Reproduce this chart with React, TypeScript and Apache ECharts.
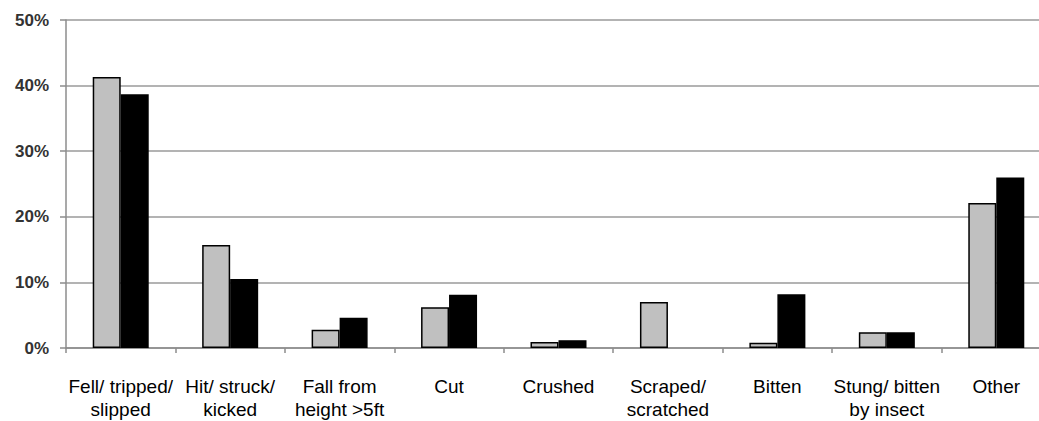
import React, { useEffect, useRef } from "react";
import * as echarts from "echarts";

const categories = [
  "Fell/ tripped/\nslipped",
  "Hit/ struck/\nkicked",
  "Fall from\nheight >5ft",
  "Cut",
  "Crushed",
  "Scraped/\nscratched",
  "Bitten",
  "Stung/ bitten\nby insect",
  "Other",
];
const seriesGrayName = "Series 1";
const seriesBlackName = "Series 2";
const grayValues = [41.3, 15.7, 2.8, 6.2, 0.9, 7.0, 0.8, 2.4, 22.1];
const blackValues = [38.7, 10.5, 4.6, 8.1, 1.2, 0, 8.2, 2.4, 26.0];
const yTicks = { min: 0, max: 50, interval: 10 };

export default function App() {
  const ref = useRef<HTMLDivElement>(null);
  useEffect(() => {
    document.body.style.margin = "0";
    const chart = echarts.init(ref.current!, null, { renderer: "svg" });
    const toData = (arr: number[]) =>
      arr.map((v) => (v === 0 ? { value: v, itemStyle: { borderWidth: 0 } } : v));
    chart.setOption({
      animation: false,
      grid: { left: 66, top: 20, right: 0, bottom: 71, containLabel: false },
      xAxis: {
        type: "category",
        data: categories,
        boundaryGap: true,
        axisLine: { show: true, lineStyle: { color: "#8c8c8c", width: 1.5 } },
        axisTick: { show: true, length: 5, lineStyle: { color: "#8c8c8c", width: 1.5 } },
        axisLabel: {
          interval: 0,
          hideOverlap: false,
          margin: 27,
          fontSize: 19,
          lineHeight: 23,
          color: "#000",
          fontFamily: "Liberation Sans, Arial, sans-serif",
        },
      },
      yAxis: {
        type: "value",
        min: yTicks.min,
        max: yTicks.max,
        interval: yTicks.interval,
        axisLine: { show: true, lineStyle: { color: "#8c8c8c", width: 1.5 } },
        axisTick: { show: true, length: 6, lineStyle: { color: "#8c8c8c", width: 1.5 } },
        splitLine: { show: true, lineStyle: { color: "#9a9a9a", width: 1.5 } },
        axisLabel: {
          formatter: "{value}%",
          margin: 17,
          fontSize: 17,
          fontWeight: "bold",
          color: "#333",
          fontFamily: "Liberation Sans, Arial, sans-serif",
        },
      },
      series: [
        {
          name: seriesGrayName,
          type: "bar",
          data: toData(grayValues),
          barWidth: 28,
          barGap: "0%",
          itemStyle: { color: "#c0c0c0", borderColor: "#000", borderWidth: 1.5 },
        },
        {
          name: seriesBlackName,
          type: "bar",
          data: toData(blackValues),
          barWidth: 28,
          barGap: "0%",
          itemStyle: { color: "#000", borderColor: "#000", borderWidth: 1.5 },
        },
      ],
    });
    return () => chart.dispose();
  }, []);
  return (
    <div style={{ width: 1039, height: 421, overflow: "hidden" }}>
      <div ref={ref} style={{ width: 1051, height: 421 }} />
    </div>
  );
}
